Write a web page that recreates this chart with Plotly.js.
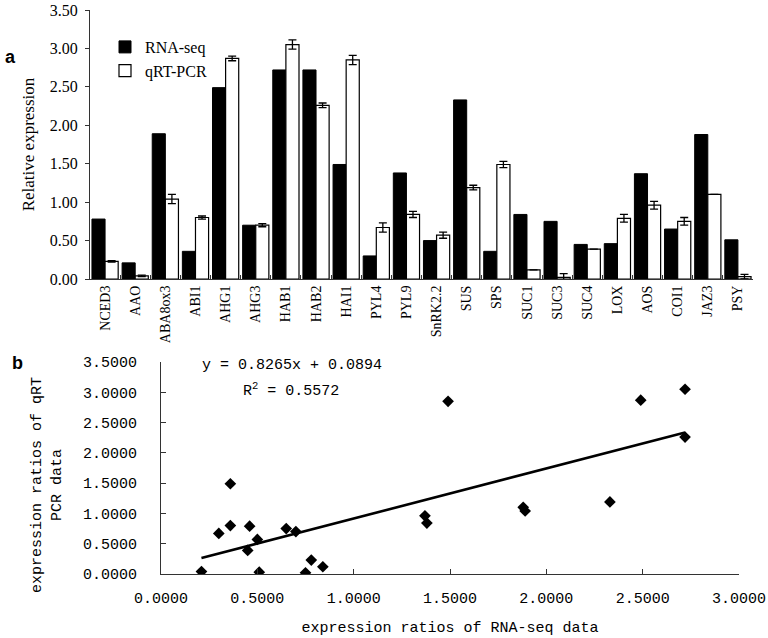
<!DOCTYPE html>
<html>
<head>
<meta charset="utf-8">
<script src="https://cdn.plot.ly/plotly-3.0.1.min.js"></script>
<style>
  html, body { margin: 0; padding: 0; background: #fff; }
  #chart { width: 768px; height: 638px; }
</style>
</head>
<body>
<div id="chart"></div>
<script>
const genes = ["NCED3","AAO","ABA8ox3","ABI1","AHG1","AHG3","HAB1","HAB2","HAI1","PYL4","PYL9","SnRK2.2","SUS","SPS","SUC1","SUC3","SUC4","LOX","AOS","COI1","JAZ3","PSY"];
const rnaSeq = [0.78,0.21,1.89,0.36,2.49,0.70,2.72,2.72,1.49,0.30,1.38,0.50,2.33,0.36,0.84,0.75,0.45,0.46,1.37,0.65,1.88,0.51];
const qrtPcr = [0.23,0.04,1.04,0.80,2.87,0.70,3.05,2.26,2.85,0.67,0.84,0.57,1.19,1.49,0.12,0.02,0.39,0.79,0.96,0.75,1.10,0.03];
const qrtErr = [0.01,0.01,0.06,0.02,0.03,0.02,0.06,0.03,0.06,0.06,0.04,0.04,0.03,0.04,0.00,0.05,0.00,0.05,0.05,0.05,0.00,0.03];
const fitSlope = 0.8265;
const fitIntercept = 0.0894;

const W = 768, H = 638;
const px = v => v / W;
const py = v => 1 - v / H;

const xMin = Math.min(...rnaSeq), xMax = Math.max(...rnaSeq);
const fitX = [xMin, xMax];
const fitY = fitX.map(x => fitSlope * x + fitIntercept);

const serif = "Liberation Serif, Times New Roman, serif";
const mono = "Liberation Mono, Courier New, monospace";
const sans = "Liberation Sans, Arial, sans-serif";

const data = [
  { type: "bar", name: "RNA-seq", x: genes, y: rnaSeq, xaxis: "x", yaxis: "y",
    marker: { color: "#000", line: { color: "#000", width: 1 } } },
  { type: "bar", name: "qRT-PCR", x: genes, y: qrtPcr, xaxis: "x", yaxis: "y",
    marker: { color: "#fff", line: { color: "#000", width: 1.2 } },
    error_y: { type: "data", array: qrtErr, visible: true, color: "#000", thickness: 1.3, width: 4 } },
  { type: "scatter", mode: "markers", x: rnaSeq, y: qrtPcr, xaxis: "x2", yaxis: "y2", showlegend: false,
    marker: { symbol: "diamond", size: 9, color: "#000" } },
  { type: "scatter", mode: "lines", x: fitX, y: fitY, xaxis: "x2", yaxis: "y2", showlegend: false,
    line: { color: "#000", width: 2.6 } }
];

const layout = {
  width: W, height: H,
  margin: { l: 0, r: 0, t: 0, b: 0 },
  paper_bgcolor: "#fff", plot_bgcolor: "#fff",
  showlegend: true,
  barmode: "group", bargap: 0.13, bargroupgap: 0,
  legend: { x: px(105), y: py(30), xanchor: "left", yanchor: "top",
            font: { family: serif, size: 16, color: "#000" }, bgcolor: "rgba(0,0,0,0)",
            itemwidth: 30, tracegroupgap: 0 },
  xaxis: { domain: [px(90), px(753)], anchor: "y", type: "category",
           range: [-0.5, 21.5], showline: true, linecolor: "#333", linewidth: 1,
           ticks: "inside", tickson: "boundaries", ticklen: 4, tickcolor: "#333",
           tickangle: -90, tickfont: { family: serif, size: 14, color: "#000" },
           showgrid: false, zeroline: false },
  yaxis: { domain: [py(279), py(10)], anchor: "x", range: [0, 3.5], dtick: 0.5,
           tickformat: ".2f", showline: true, linecolor: "#333", linewidth: 1,
           ticks: "outside", ticklen: 4, tickcolor: "#333", ticklabelstandoff: 4,
           tickfont: { family: serif, size: 16, color: "#000" },
           showgrid: false, zeroline: false,
           title: { text: "Relative expression", font: { family: serif, size: 17, color: "#000" }, standoff: 10 } },
  xaxis2: { domain: [px(161), px(739)], anchor: "y2", range: [0, 3.0], dtick: 0.5,
            tickformat: ".4f", showline: true, linecolor: "#333", linewidth: 1,
            ticks: "inside", ticklen: 5, tickcolor: "#333", ticklabelstandoff: 10,
            tickfont: { family: mono, size: 15, color: "#000" },
            showgrid: false, zeroline: false,
            title: { text: "expression ratios of RNA-seq data", font: { family: mono, size: 15, color: "#000" }, standoff: 14 } },
  yaxis2: { domain: [py(574), py(362)], anchor: "x2", range: [0, 3.5], dtick: 0.5,
            tickformat: ".4f", showline: true, linecolor: "#333", linewidth: 1,
            ticks: "inside", ticklen: 5, tickcolor: "#333", ticklabelstandoff: 20,
            tickfont: { family: mono, size: 15, color: "#000" },
            showgrid: false, zeroline: false },
  annotations: [
    { text: "<b>a</b>", xref: "paper", yref: "paper", x: px(10), y: py(57), xanchor: "center", yanchor: "middle",
      showarrow: false, font: { family: sans, size: 18, color: "#000" } },
    { text: "<b>b</b>", xref: "paper", yref: "paper", x: px(17), y: py(363), xanchor: "center", yanchor: "middle",
      showarrow: false, font: { family: sans, size: 18, color: "#000" } },
    { text: "y = 0.8265x + 0.0894", xref: "paper", yref: "paper", x: px(292), y: py(365), xanchor: "center", yanchor: "middle",
      showarrow: false, font: { family: mono, size: 15, color: "#000" } },
    { text: "R<sup>2</sup> = 0.5572", xref: "paper", yref: "paper", x: px(291), y: py(390), xanchor: "center", yanchor: "middle",
      showarrow: false, font: { family: mono, size: 15, color: "#000" } },
    { text: "expression ratios of qRT<br>PCR data", xref: "paper", yref: "paper", x: px(47), y: py(485),
      xanchor: "center", yanchor: "middle",
      showarrow: false, textangle: -90, align: "center",
      font: { family: mono, size: 15, color: "#000" } }
  ]
};

Plotly.newPlot("chart", data, layout, { displayModeBar: false, staticPlot: true });
</script>
</body>
</html>
